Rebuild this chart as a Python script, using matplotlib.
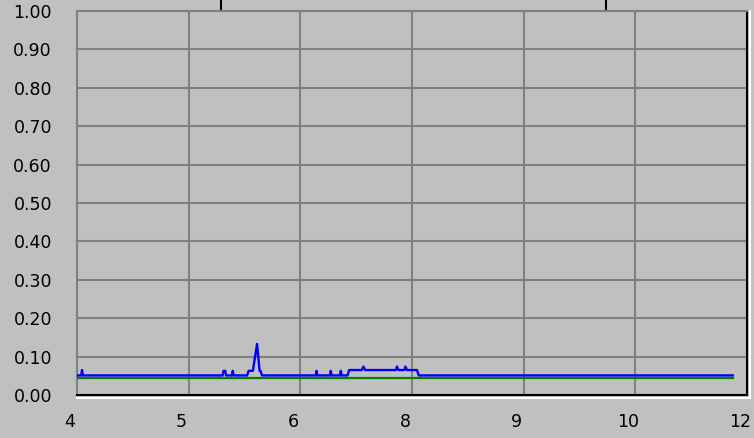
import numpy as np
import matplotlib
matplotlib.use('Agg')
import matplotlib.pyplot as plt
from matplotlib.transforms import ScaledTranslation

#%% Datos
# eje x: 4..12 en 6 divisiones, las etiquetas van truncadas a entero
x_ticks = np.linspace(4, 12, 7)
x_labels = ['4', '5', '6', '8', '9', '10', '12']
y_ticks = np.arange(0, 1.01, 0.1)
y_labels = [f'{v:.2f}' for v in y_ticks]
top_marks = [5.72, 10.32]

# traza azul (medicion)
blue_x = [4.01, 4.05, 4.06, 4.07, 5.74, 5.75, 5.77, 5.78, 5.85, 5.86, 5.87,
          6.03, 6.05, 6.10, 6.15, 6.18, 6.19, 6.21, 6.85, 6.86, 6.87,
          7.02, 7.03, 7.04, 7.14, 7.15, 7.16, 7.23, 7.25, 7.40, 7.42, 7.44,
          7.81, 7.82, 7.84, 7.91, 7.92, 7.94, 8.06, 8.08, 11.83]
blue_y = [0.051, 0.051, 0.065, 0.051, 0.051, 0.063, 0.063, 0.051, 0.051, 0.063, 0.051,
          0.051, 0.063, 0.063, 0.133, 0.063, 0.063, 0.051, 0.051, 0.063, 0.051,
          0.051, 0.063, 0.051, 0.051, 0.063, 0.051, 0.051, 0.065, 0.065, 0.074, 0.065,
          0.065, 0.074, 0.065, 0.065, 0.074, 0.065, 0.065, 0.051, 0.051]

# referencia verde
green_x = [4.01, 11.83]
green_y = [0.045, 0.045]

#%% Grafico
bg = '#c0c0c0'
plt.rcParams['font.family'] = ['DejaVu Sans']
plt.rcParams['font.size'] = 12.5

fig = plt.figure(figsize=(7.54, 4.38), dpi=100, facecolor=bg)
ax = fig.add_axes([77/754, 43/438, 670/754, 384/438])
ax.set_facecolor(bg)

ax.plot(green_x, green_y, color='#008000', lw=1.6, zorder=3)
ax.plot(blue_x, blue_y, color='#0000ff', lw=1.7, zorder=4)

ax.set_xlim(4, 12)
ax.set_ylim(0, 1)
ax.set_xticks(x_ticks)
ax.set_xticklabels(x_labels)
ax.set_yticks(y_ticks)
ax.set_yticklabels(y_labels)
ax.tick_params(axis='x', length=0, pad=13, colors='black')
ax.tick_params(axis='y', length=0, pad=18, colors='black')
ax.grid(True, color='#808080', lw=1.5)
ax.set_axisbelow(True)

# etiquetas x corridas un poco a la izquierda
shift = ScaledTranslation(-7/100, 0, fig.dpi_scale_trans)
for lbl in ax.get_xticklabels():
    lbl.set_transform(lbl.get_transform() + shift)

# marco con efecto hundido
for s in ['left', 'top']:
    ax.spines[s].set_color('#808080')
    ax.spines[s].set_linewidth(1.5)
for s in ['bottom', 'right']:
    ax.spines[s].set_color('black')
    ax.spines[s].set_linewidth(1.5)
ax.plot([0, 1.004], [-0.007, -0.007], transform=ax.transAxes, color='white',
        lw=1.5, clip_on=False)
ax.plot([1.004, 1.004], [-0.007, 1.0], transform=ax.transAxes, color='white',
        lw=1.5, clip_on=False)

# marcas superiores
top = ax.secondary_xaxis('top')
top.set_xticks(top_marks)
top.set_xticklabels(['', ''])
top.tick_params(length=8, width=1.5, direction='out', color='black')
for s in top.spines.values():
    s.set_visible(False)

fig.savefig('out.png', dpi=100, facecolor=bg)
plt.close(fig)
